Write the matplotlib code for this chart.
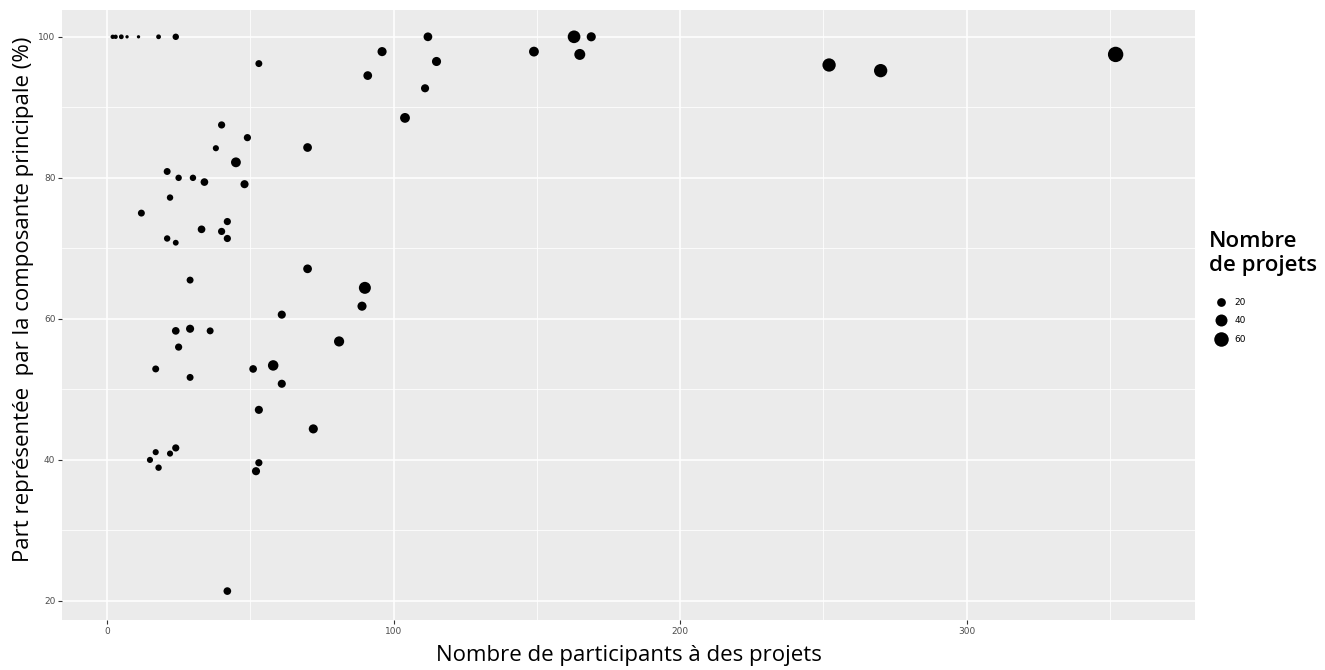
import numpy as np
import matplotlib
matplotlib.use("Agg")
import matplotlib.pyplot as plt
from matplotlib.lines import Line2D

# participants, share of principal component (%), number of projects
participants = [2, 3, 5, 7, 11, 18, 24,
                53, 96, 91, 112, 115, 111, 104, 149, 163, 169, 165,
                252, 270, 352,
                40, 49, 38, 70, 45, 21, 25, 30, 34, 48, 22, 12,
                42, 33, 40, 42, 21, 24, 70, 29, 90, 89, 61,
                24, 29, 36, 81, 25, 17, 51, 58, 61, 29, 53, 72,
                24, 17, 22, 15, 18, 53, 52, 42]
part = [100, 100, 100, 100, 100, 100, 100,
        96.2, 97.9, 94.5, 100, 96.5, 92.7, 88.5, 97.9, 100, 100, 97.5,
        96.0, 95.2, 97.5,
        87.5, 85.7, 84.2, 84.3, 82.2, 80.9, 80.0, 80.0, 79.4, 79.1, 77.2, 75.0,
        73.8, 72.7, 72.4, 71.4, 71.4, 70.8, 67.1, 65.5, 64.4, 61.8, 60.6,
        58.3, 58.6, 58.3, 56.8, 56.0, 52.9, 52.9, 53.4, 50.8, 51.7, 47.1, 44.4,
        41.7, 41.1, 40.9, 40.0, 38.9, 39.6, 38.4, 21.4]
projets = [4, 4, 5, 2, 2, 5, 10,
           12, 22, 20, 20, 22, 17, 26, 26, 45, 22, 33,
           50, 50, 68,
           13, 13, 9, 20, 26, 12, 10, 10, 15, 17, 10, 12,
           13, 15, 13, 13, 10, 8, 20, 12, 40, 22, 17,
           15, 17, 12, 28, 13, 12, 15, 30, 17, 12, 17, 22,
           13, 9, 9, 9, 10, 13, 17, 15]

legend_vals = [20, 40, 60]
x_ticks = [0, 100, 200, 300]
y_ticks = [20, 40, 60, 80, 100]


def size_of(v):
    # area-like scale, diameter from ~2.6px to ~15px
    v = np.asarray(v, dtype=float)
    d = 2.6 + 13.0 * (np.sqrt(v) - 1) / (np.sqrt(70) - 1)
    return (d * 0.72) ** 2


fig = plt.figure(figsize=(13.25, 6.7), dpi=100)
ax = fig.add_axes([62 / 1325, 50 / 670, (1195 - 62) / 1325, (620 - 10) / 670])
ax.set_facecolor('#EBEBEB')
for s in ax.spines.values():
    s.set_visible(False)

ax.set_xlim(-15.7, 379.7)
ax.set_ylim(17.3, 103.8)
ax.set_xticks(x_ticks)
ax.set_yticks(y_ticks)
ax.set_xticks([50, 150, 250, 350], minor=True)
ax.set_yticks([30, 50, 70, 90], minor=True)
ax.grid(True, which='major', color='white', linewidth=1.1)
ax.grid(True, which='minor', color='white', linewidth=0.55)
ax.set_axisbelow(True)
ax.tick_params(which='major', length=2.75, width=0.8, color='#333333',
               labelsize=6.5, labelcolor='#4D4D4D', pad=2)
ax.tick_params(which='minor', length=0)

ax.scatter(participants, part, s=size_of(projets), c='black',
           edgecolors='none', zorder=3)

ax.set_xlabel('Nombre de participants à des projets', fontsize=16,
              family='Open Sans', labelpad=7)
ax.set_ylabel('Part représentée  par la composante principale (%)', fontsize=16,
              family='Open Sans')
ax.yaxis.set_label_coords(-28 / 1133, 0.526)

# legend: title as separate text so the gap to the keys can be set
fig.text(1209 / 1325, 1 - 231 / 670, 'Nombre\nde projets', ha='left', va='top',
         family='Open Sans', fontsize=16, weight='semibold', linespacing=1.2)
handles = [Line2D([], [], linestyle='none', marker='o', color='black',
                  markersize=np.sqrt(size_of(v)), markeredgewidth=0)
           for v in legend_vals]
leg = fig.legend(handles, [str(v) for v in legend_vals],
                 loc='upper left', bbox_to_anchor=(1214 / 1325, 1 - 298 / 670),
                 frameon=False, fontsize=6.5, labelspacing=1.05,
                 handletextpad=0.7, handlelength=1.6,
                 borderpad=0, borderaxespad=0)

fig.savefig('out.png', dpi=100)
